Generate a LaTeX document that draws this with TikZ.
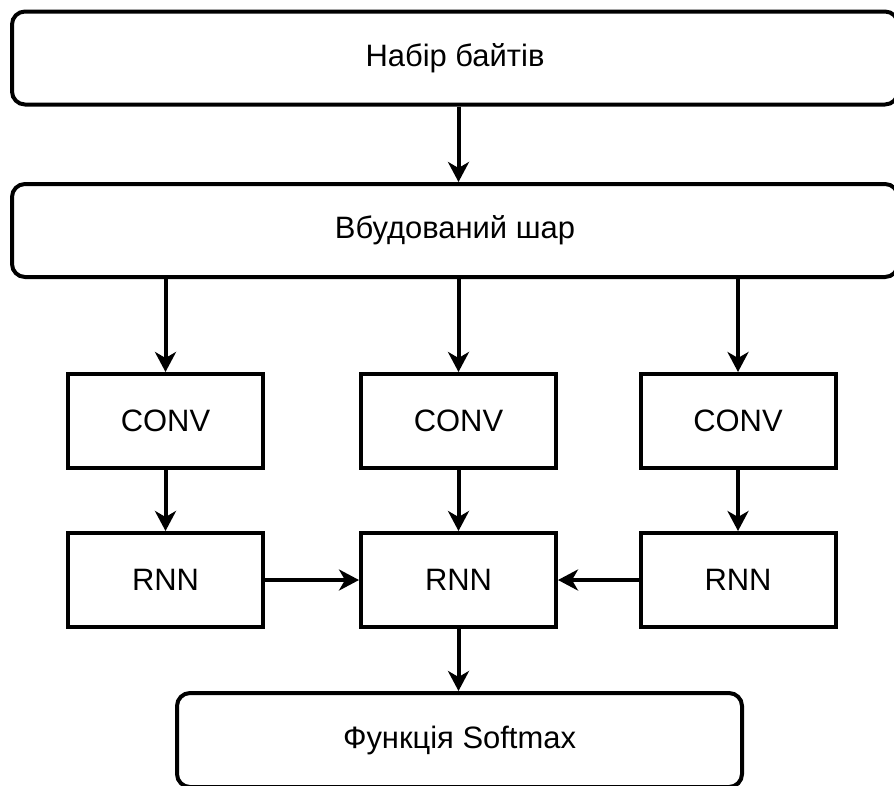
\documentclass[tikz,border=0pt]{standalone}
\usepackage{fontspec}
\setmainfont{Liberation Sans}
\usepackage{tikz}
\usetikzlibrary{arrows.meta}

\begin{document}
\begin{tikzpicture}[
    layerBox/.style={draw, line width=0.08cm, rounded corners=0.26cm, minimum width=17.72cm, minimum height=1.86cm},
    cellBox/.style={draw, line width=0.08cm, minimum width=3.9cm, minimum height=1.88cm},
    arr/.style={line width=0.08cm, -{Stealth[length=0.4cm, width=0.42cm, inset=0.12cm]}},
    font=\fontsize{17.6}{21}\selectfont]
    \useasboundingbox (0,0) rectangle (17.88,-15.7);
    \begin{scope}
    \clip (0,0) rectangle (17.88,-15.7);
    % --- TOP LAYERS ---
    \node[layerBox] (bytes) at (9.1,-1.16) {Набір байтів};
    \node[layerBox] (embed) at (9.1,-4.61) {Вбудований шар};
    % --- CONV / RNN COLUMNS ---
    \node[cellBox] (convA) at (3.31,-8.42) {CONV};
    \node[cellBox] (convB) at (9.17,-8.42) {CONV};
    \node[cellBox] (convC) at (14.76,-8.42) {CONV};
    \node[cellBox] (rnnA) at (3.31,-11.6) {RNN};
    \node[cellBox] (rnnB) at (9.17,-11.6) {RNN};
    \node[cellBox] (rnnC) at (14.76,-11.6) {RNN};
    % --- OUTPUT ---
    \node[layerBox, minimum width=11.3cm, minimum height=1.88cm] (soft) at (9.19,-14.8) {Функція Softmax};
    \end{scope}
    \draw[arr] (bytes.south -| convB) -- (embed.north -| convB);
    \draw[arr] (embed.south -| convA) -- (convA.north);
    \draw[arr] (embed.south -| convB) -- (convB.north);
    \draw[arr] (embed.south -| convC) -- (convC.north);
    \draw[arr] (convA) -- (rnnA);
    \draw[arr] (convB) -- (rnnB);
    \draw[arr] (convC) -- (rnnC);
    \draw[arr] (rnnA) -- (rnnB);
    \draw[arr] (rnnC) -- (rnnB);
    \draw[arr] (rnnB.south) -- (soft.north -| rnnB);
\end{tikzpicture}
\end{document}
